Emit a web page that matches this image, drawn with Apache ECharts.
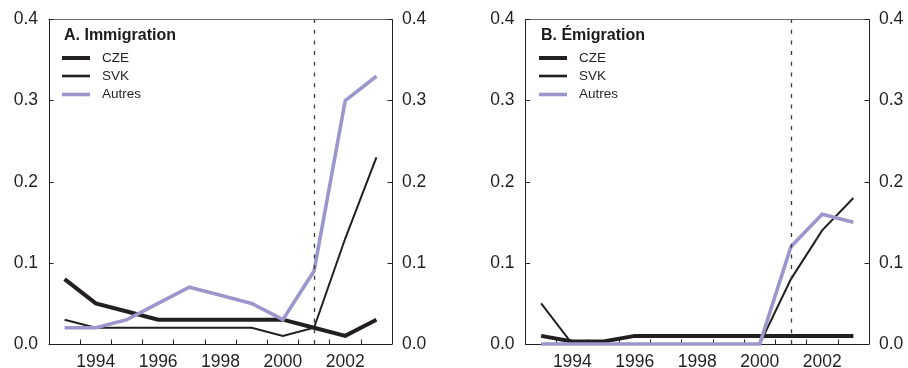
<!DOCTYPE html>
<html>
<head>
<meta charset="utf-8">
<script src="https://cdn.jsdelivr.net/npm/echarts@6/dist/echarts.min.js"></script>
<style>
html,body{margin:0;padding:0;background:#fff;}
#chart{width:908px;height:368px;}
</style>
</head>
<body>
<div id="chart"></div>
<script>
// ---- data ----
const years = ['1993', '1994', '1995', '1996', '1997', '1998', '1999', '2000', '2001', '2002', '2003'];
const immCZE    = [0.08, 0.05, 0.04, 0.03, 0.03, 0.03, 0.03, 0.03, 0.02, 0.01, 0.03];
const immSVK    = [0.03, 0.02, 0.02, 0.02, 0.02, 0.02, 0.02, 0.01, 0.02, 0.13, 0.23];
const immAutres = [0.02, 0.02, 0.03, 0.05, 0.07, 0.06, 0.05, 0.03, 0.09, 0.30, 0.33];
const emiCZE    = [0.01, 0.003, 0.003, 0.01, 0.01, 0.01, 0.01, 0.01, 0.01, 0.01, 0.01];
const emiSVK    = [0.05, 0, 0, 0, 0, 0, 0, 0, 0.08, 0.14, 0.18];
const emiAutres = [0, 0, 0, 0, 0, 0, 0, 0, 0.12, 0.16, 0.15];
const yearTickLabels = ['1994', '1996', '1998', '2000', '2002'];
const yTicks = [0, 0.1, 0.2, 0.3, 0.4];
const breakYear = '2001';
const panelTitles = ['A. Immigration', 'B. Émigration'];
const seriesNames = ['CZE', 'SVK', 'Autres'];

// ---- styles ----
const FONT = '"Liberation Sans", Arial, Helvetica, sans-serif';
const INK = '#231f20';
const PURPLE = '#9b97cc';
const styles = [
  {color: INK, width: 4},
  {color: INK, width: 2},
  {color: PURPLE, width: 3.6}
];
const legendWidths = [4, 2.6, 3.6];

const grids = [
  {left: 49, top: 19.5, width: 343, height: 324.5, containLabel: false, outerBoundsMode: 'none'},
  {left: 525.5, top: 19.5, width: 343.5, height: 324.5, containLabel: false, outerBoundsMode: 'none'}
];

const xAxes = [], yAxes = [], series = [], graphics = [];
const panelData = [[immCZE, immSVK, immAutres], [emiCZE, emiSVK, emiAutres]];

grids.forEach((g, gi) => {
  // bottom x axis: categories are years, ticks fall on the band boundaries
  xAxes.push({
    type: 'category', gridIndex: gi, position: 'bottom',
    data: years, boundaryGap: true,
    splitLine: {show: false},
    axisLine: {show: true, lineStyle: {color: INK, width: 1}},
    axisTick: {show: true, inside: true, length: 4.5, interval: 0, alignWithLabel: false, lineStyle: {color: INK}},
    axisLabel: {show: true, interval: (idx, val) => yearTickLabels.indexOf(String(val)) >= 0,
      margin: 9.5, color: INK, fontSize: 17.5, fontFamily: FONT}
  });
  // top x axis (frame only)
  xAxes.push({
    type: 'category', gridIndex: gi, position: 'top',
    data: years, boundaryGap: true,
    splitLine: {show: false},
    axisLine: {show: true, onZero: false, lineStyle: {color: '#6a6a6a', width: 1}},
    axisTick: {show: false}, axisLabel: {show: false}
  });
  ['left', 'right'].forEach(pos => {
    yAxes.push({
      type: 'value', gridIndex: gi, position: pos,
      min: yTicks[0], max: yTicks[yTicks.length - 1], interval: 0.1,
      splitLine: {show: false},
      axisLine: {show: true, onZero: false, lineStyle: {color: INK, width: 1}},
      axisTick: {show: true, inside: true, length: 4.5, lineStyle: {color: INK}},
      axisLabel: {show: true, margin: pos === 'left' ? 11 : 10, color: INK, fontSize: 17.5, fontFamily: FONT,
        formatter: v => v.toFixed(1)}
    });
  });

  panelData[gi].forEach((vals, si) => {
    const s = {
      type: 'line', name: seriesNames[si],
      xAxisIndex: gi * 2, yAxisIndex: gi * 2,
      data: vals,
      symbol: 'none', clip: false, silent: true, animation: false,
      lineStyle: {color: styles[si].color, width: styles[si].width, join: 'miter'},
      z: 2 + si
    };
    if (si === 0) {
      s.markLine = {
        silent: true, symbol: 'none', animation: false,
        label: {show: false},
        lineStyle: {type: [4, 6.7], color: '#3a3a3a', width: 1.3},
        data: [{xAxis: breakYear}]
      };
    }
    series.push(s);
  });

  // title and legend
  const off = gi === 0 ? 0 : 477;
  graphics.push({
    type: 'text', x: 64 + off, y: 35.5,
    style: {text: panelTitles[gi], font: 'bold 16px ' + FONT, fill: '#1a1a1a', align: 'left', verticalAlign: 'middle'}
  });
  const ly = [58, 76, 94.5];
  seriesNames.forEach((n, si) => {
    graphics.push({
      type: 'line', shape: {x1: 62 + off, y1: ly[si], x2: 90 + off, y2: ly[si]},
      style: {stroke: styles[si].color, lineWidth: legendWidths[si]}
    });
    graphics.push({
      type: 'text', x: 102 + off, y: ly[si],
      style: {text: n, font: '13.5px ' + FONT, fill: INK, align: 'left', verticalAlign: 'middle'}
    });
  });
});

const chart = echarts.init(document.getElementById('chart'), null, {renderer: 'canvas'});
chart.setOption({
  animation: false,
  backgroundColor: '#fff',
  grid: grids,
  xAxis: xAxes,
  yAxis: yAxes,
  series: series,
  graphic: graphics
});
</script>
</body>
</html>
